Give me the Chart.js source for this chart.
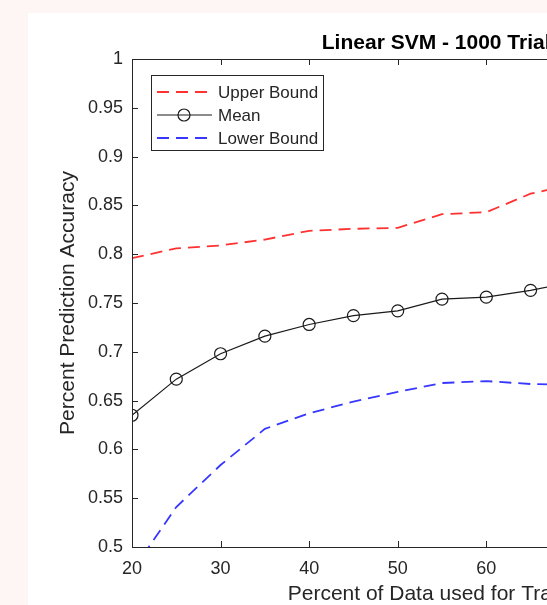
<!DOCTYPE html>
<html>
<head>
<meta charset="utf-8">
<script src="https://cdn.jsdelivr.net/npm/chart.js@4.4.0/dist/chart.umd.min.js"></script>
<style>
  html, body { margin: 0; padding: 0; overflow: hidden; background: #fdf6f4; }
  #panel { position: absolute; left: 28px; top: 13px; width: 900px; height: 592px; background: #fff; }
  canvas { display: block; }
</style>
</head>
<body>
<div id="panel"><canvas id="chart" width="900" height="592"></canvas></div>
<script>
// --- data ---
const trainPercent = [20, 25, 30, 35, 40, 45, 50, 55, 60, 65, 70];
const upperBound = [0.796, 0.806, 0.809, 0.815, 0.824, 0.826, 0.827, 0.841, 0.843, 0.862, 0.872];
const meanAcc    = [0.635, 0.672, 0.698, 0.716, 0.728, 0.737, 0.742, 0.754, 0.756, 0.763, 0.772];
const lowerBound = [0.475, 0.541, 0.584, 0.621, 0.637, 0.649, 0.659, 0.668, 0.670, 0.667, 0.666];

const xTickLabels = ['20', '30', '40', '50', '60', '70', '80', '90'];
const yTickLabels = ['0.5', '0.55', '0.6', '0.65', '0.7', '0.75', '0.8', '0.85', '0.9', '0.95', '1'];

const titleText = 'Linear SVM - 1000 Trials';
const xTitle = 'Percent of Data used for Training';
const yTitle = 'Percent Prediction Accuracy';

const axisColor = '#262626';
const fontFamily = "'Liberation Sans', Arial, Helvetica, sans-serif";

function pts(ys) {
  return trainPercent.map((x, i) => ({ x: x, y: ys[i] }));
}

// box, inside ticks, title and legend (matlab look)
const matlabAxes = {
  id: 'matlabAxes',
  afterDraw(chart) {
    const { ctx, chartArea: a, scales } = chart;
    ctx.save();
    ctx.strokeStyle = axisColor;
    ctx.lineWidth = 1;
    ctx.strokeRect(Math.round(a.left) + 0.5, Math.round(a.top) + 0.5,
      Math.round(a.right - a.left), Math.round(a.bottom - a.top));
    ctx.beginPath();
    scales.x.ticks.forEach(t => {
      const px = Math.round(scales.x.getPixelForValue(t.value)) + 0.5;
      ctx.moveTo(px, a.bottom); ctx.lineTo(px, a.bottom - 6);
      ctx.moveTo(px, a.top); ctx.lineTo(px, a.top + 6);
    });
    scales.y.ticks.forEach(t => {
      const py = Math.round(scales.y.getPixelForValue(t.value)) + 0.5;
      ctx.moveTo(a.left, py); ctx.lineTo(a.left + 6, py);
      ctx.moveTo(a.right, py); ctx.lineTo(a.right - 6, py);
    });
    ctx.stroke();

    ctx.fillStyle = '#000';
    ctx.font = 'bold 21px ' + fontFamily;
    ctx.textAlign = 'center';
    ctx.textBaseline = 'alphabetic';
    ctx.fillText(titleText, (a.left + a.right) / 2, 36);

    // legend
    const bx = a.left + 19, by = a.top + 16, bw = 172, bh = 75;
    ctx.fillStyle = '#fff';
    ctx.fillRect(bx, by, bw, bh);
    ctx.strokeStyle = axisColor;
    ctx.strokeRect(Math.round(bx) + 0.5, Math.round(by) + 0.5, bw, bh);
    ctx.font = '17px ' + fontFamily;
    ctx.textAlign = 'left';
    ctx.textBaseline = 'middle';
    chart.data.datasets.forEach((ds, i) => {
      const ly = by + 17 + i * 23;
      ctx.strokeStyle = ds.borderColor;
      ctx.lineWidth = ds.borderWidth;
      ctx.setLineDash(ds.borderDash || []);
      ctx.beginPath();
      ctx.moveTo(bx + 6, ly); ctx.lineTo(bx + 61, ly);
      ctx.stroke();
      ctx.setLineDash([]);
      if (ds.pointRadius > 0) {
        ctx.beginPath();
        ctx.arc(bx + 33, ly, ds.pointRadius, 0, Math.PI * 2);
        ctx.stroke();
      }
      ctx.fillStyle = axisColor;
      ctx.fillText(ds.label, bx + 67, ly + 1);
    });
    ctx.restore();
  }
};

new Chart(document.getElementById('chart'), {
  type: 'line',
  data: {
    datasets: [
      {
        label: 'Upper Bound',
        data: pts(upperBound),
        borderColor: 'rgb(255, 50, 50)',
        borderWidth: 1.8,
        borderDash: [12, 7],
        pointRadius: 0,
        fill: false
      },
      {
        label: 'Mean',
        data: pts(meanAcc),
        borderColor: '#1a1a1a',
        borderWidth: 1.2,
        pointRadius: 6,
        pointBorderWidth: 1.2,
        pointBackgroundColor: 'rgba(0,0,0,0)',
        pointBorderColor: '#1a1a1a',
        fill: false
      },
      {
        label: 'Lower Bound',
        data: pts(lowerBound),
        borderColor: 'rgb(55, 55, 255)',
        borderWidth: 1.8,
        borderDash: [12, 7],
        pointRadius: 0,
        fill: false
      }
    ]
  },
  options: {
    responsive: false,
    animation: false,
    layout: { padding: { left: 0, top: 46, right: 176, bottom: 0 } },
    plugins: {
      legend: { display: false },
      tooltip: { enabled: false }
    },
    scales: {
      x: {
        type: 'linear',
        min: 20,
        max: 90,
        grid: { display: false, drawTicks: false },
        border: { display: false },
        afterFit: s => { s.height = 58; },
        ticks: {
          stepSize: 10,
          padding: 11,
          color: axisColor,
          font: { family: fontFamily, size: 18 },
          maxRotation: 0,
          callback: (v, i) => xTickLabels[i]
        },
        title: {
          display: true,
          text: xTitle,
          color: axisColor,
          font: { family: fontFamily, size: 21, lineHeight: 1 },
          padding: { top: 0, bottom: 0 }
        }
      },
      y: {
        min: 0.5,
        max: 1,
        grid: { display: false, drawTicks: false },
        border: { display: false },
        afterFit: s => { s.width = 104; },
        ticks: {
          stepSize: 0.05,
          padding: 9,
          color: axisColor,
          font: { family: fontFamily, size: 18 },
          callback: (v, i) => yTickLabels[i]
        },
        title: {
          display: true,
          text: yTitle,
          color: axisColor,
          font: { family: fontFamily, size: 21, lineHeight: 1.2 },
          padding: { top: 28, bottom: 0 }
        }
      }
    }
  },
  plugins: [matlabAxes]
});
</script>
</body>
</html>
